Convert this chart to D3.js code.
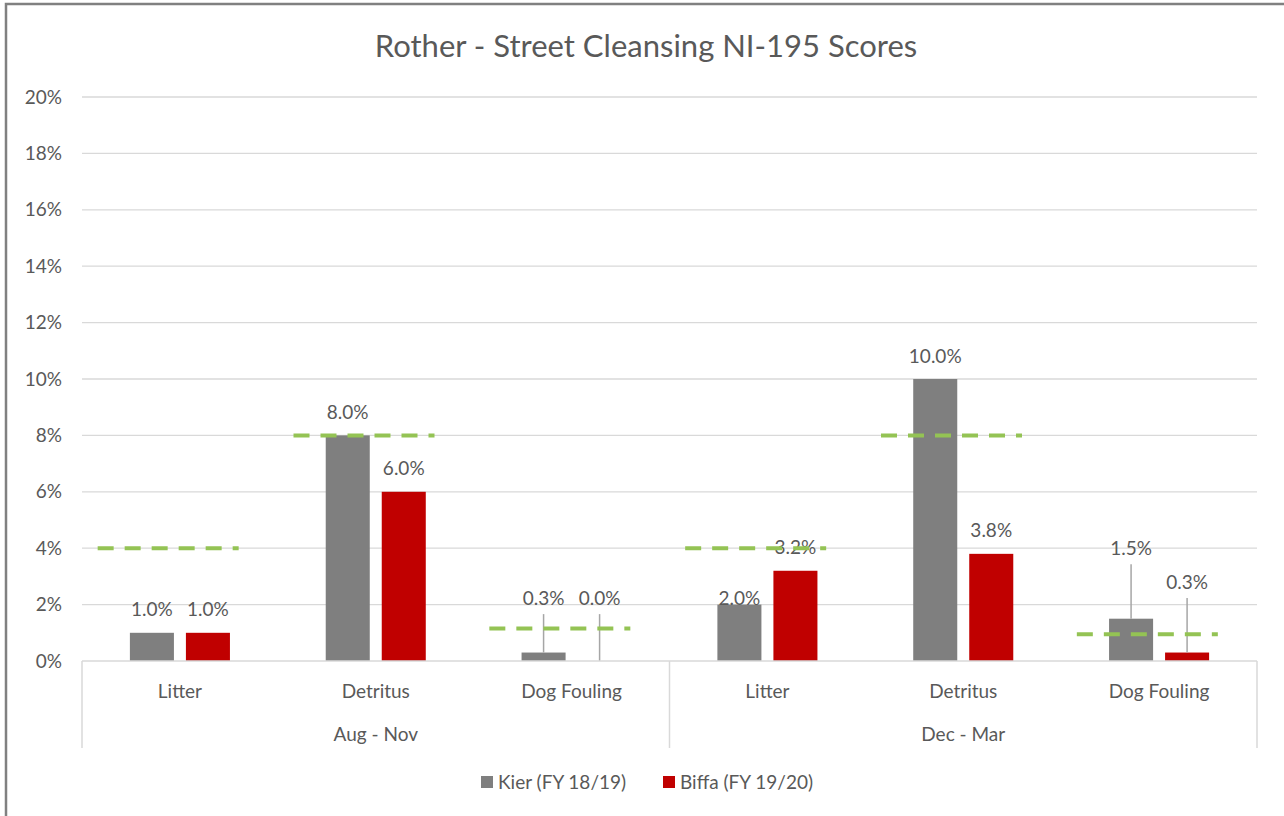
<!DOCTYPE html>
<html>
<head>
<meta charset="utf-8">
<script src="https://cdnjs.cloudflare.com/ajax/libs/d3/7.8.5/d3.min.js"></script>
<style>
  body { margin: 0; background: #fff; }
  text { font-family: Lato, "Open Sans", sans-serif; fill: #595959; }
</style>
</head>
<body>
<script>
// data
var periods = ["Aug - Nov", "Dec - Mar"];
var categories = ["Litter", "Detritus", "Dog Fouling"];
var series = ["Kier (FY 18/19)", "Biffa (FY 19/20)"];
var kier = [0.010, 0.080, 0.003, 0.020, 0.100, 0.015];
var biffa = [0.010, 0.060, 0.000, 0.032, 0.038, 0.003];
var targets = [0.040, 0.080, 0.0115, 0.040, 0.080, 0.0095];
var yTicks = [0, 0.02, 0.04, 0.06, 0.08, 0.10, 0.12, 0.14, 0.16, 0.18, 0.20];

// labels that excel pushed away from the bar (label centre, in axis units)
var labelMoved = {"0-2-0": 0.0223, "0-2-1": 0.0223, "1-0-0": 0.0223, "1-2-0": 0.040, "1-2-1": 0.028};

var colors = ["#7f7f7f", "#c00000"];
var width = 1284, height = 816;
var fs = "19px";

var svg = d3.select("body").append("svg").attr("width", width).attr("height", height);

// chart border
svg.append("path").attr("d", "M6,820 L6,4 L1290,4")
  .attr("fill", "none").attr("stroke", "#808080").attr("stroke-width", 2.5);

svg.append("text").attr("x", 646).attr("y", 46).attr("dy", "0.35em")
  .attr("text-anchor", "middle").style("font-size", "31px")
  .text("Rother - Street Cleansing NI-195 Scores");

var plotLeft = 82, plotRight = 1257, plotTop = 97, base = 661;
var y = d3.scaleLinear().domain([0, 0.20]).range([base, plotTop]);

// flat list of the 6 bottom-level categories
var cells = [];
periods.forEach(function(p, pi) {
  categories.forEach(function(c, ci) {
    var i = pi * categories.length + ci;
    cells.push({key: pi + "-" + ci, period: p, cat: c, vals: [kier[i], biffa[i]], target: targets[i]});
  });
});

var x0 = d3.scaleBand().domain(periods).range([plotLeft, plotRight]);
var x1 = d3.scaleBand().domain(categories).range([0, x0.bandwidth()]);
var x2 = d3.scaleBand().domain(series).range([0, x1.bandwidth()]).paddingInner(0.214).paddingOuter(0.855);

function cx(d) { return x0(d.period) + x1(d.cat); }

// gridlines
svg.append("g").selectAll("line").data(yTicks.slice(1)).enter().append("line")
  .attr("x1", plotLeft).attr("x2", plotRight)
  .attr("y1", function(d) { return y(d); }).attr("y2", function(d) { return y(d); })
  .attr("stroke", "#d9d9d9").attr("stroke-width", 1.3);

svg.append("g").selectAll("text").data(yTicks).enter().append("text")
  .attr("x", 62).attr("y", function(d) { return y(d); }).attr("dy", "0.35em")
  .attr("text-anchor", "end").style("font-size", fs)
  .text(function(d) { return Math.round(d * 100) + "%"; });

// bars
var g = svg.append("g").selectAll("g").data(cells).enter().append("g")
  .attr("transform", function(d) { return "translate(" + cx(d) + ",0)"; });

g.selectAll("rect").data(function(d) { return d.vals; }).enter().append("rect")
  .attr("x", function(v, i) { return x2(series[i]); })
  .attr("width", x2.bandwidth())
  .attr("y", function(v) { return y(v); })
  .attr("height", function(v) { return base - y(v); })
  .attr("fill", function(v, i) { return colors[i]; });

// leader lines + data labels
g.each(function(d) {
  var cell = d3.select(this);
  d.vals.forEach(function(v, i) {
    var bx = x2(series[i]) + x2.bandwidth() / 2;
    var moved = labelMoved[d.key + "-" + i];
    var ly = moved !== undefined ? y(moved) : y(v) - 23;
    if (moved !== undefined && y(v) - ly > 25) {
      cell.append("line").attr("x1", bx).attr("x2", bx)
        .attr("y1", ly + 16).attr("y2", y(v))
        .attr("stroke", "#a6a6a6").attr("stroke-width", 1.5);
    }
    cell.append("text").attr("x", bx).attr("y", ly).attr("dy", "0.35em")
      .attr("text-anchor", "middle").style("font-size", fs)
      .text((v * 100).toFixed(1) + "%");
  });
});

// target dashes
g.append("line")
  .attr("x1", x1.bandwidth() * 0.08).attr("x2", x1.bandwidth() * 0.8)
  .attr("y1", function(d) { return y(d.target); }).attr("y2", function(d) { return y(d.target); })
  .attr("stroke", "#94c354").attr("stroke-width", 4).attr("stroke-dasharray", "16,11");

// x axis
svg.append("line").attr("x1", plotLeft).attr("x2", plotRight).attr("y1", base).attr("y2", base)
  .attr("stroke", "#d9d9d9").attr("stroke-width", 1.5);
var seps = [plotLeft].concat(periods.map(function(p) { return x0(p) + x0.bandwidth(); }));
svg.append("g").selectAll("line").data(seps).enter().append("line")
  .attr("x1", function(d) { return d; }).attr("x2", function(d) { return d; })
  .attr("y1", base).attr("y2", 748)
  .attr("stroke", "#d9d9d9").attr("stroke-width", 1.5);

svg.append("g").selectAll("text").data(cells).enter().append("text")
  .attr("x", function(d) { return cx(d) + x1.bandwidth() / 2; }).attr("y", 691).attr("dy", "0.35em")
  .attr("text-anchor", "middle").style("font-size", fs)
  .text(function(d) { return d.cat; });

svg.append("g").selectAll("text").data(periods).enter().append("text")
  .attr("x", function(d) { return x0(d) + x0.bandwidth() / 2; }).attr("y", 734).attr("dy", "0.35em")
  .attr("text-anchor", "middle").style("font-size", fs)
  .text(function(d) { return d; });

// legend
var legX = [481, 663];
var leg = svg.append("g").selectAll("g").data(series).enter().append("g")
  .attr("transform", function(d, i) { return "translate(" + legX[i] + ",782)"; });
leg.append("rect").attr("x", 0).attr("y", -6).attr("width", 12).attr("height", 12)
  .attr("fill", function(d, i) { return colors[i]; });
leg.append("text").attr("x", 17).attr("y", 0).attr("dy", "0.35em").style("font-size", fs)
  .text(function(d) { return d; });
</script>
</body>
</html>
